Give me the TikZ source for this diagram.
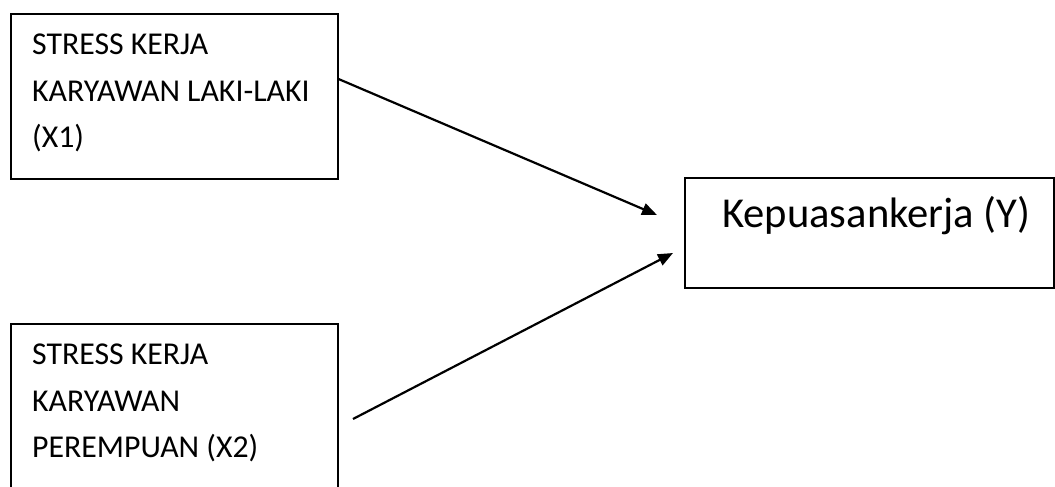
\documentclass[tikz,border=0pt]{standalone}
\usepackage{fontspec}
\setmainfont{Carlito}
\usetikzlibrary{arrows.meta}
\begin{document}
\begin{tikzpicture}[x=1pt,y=-1pt,
  box/.style={draw,line width=1.7pt,inner sep=0pt,anchor=north west},
  lbl/.style={font=\fontsize{31.8}{46.5}\selectfont,align=left,inner sep=0pt,anchor=north west},
  big/.style={font=\fontsize{42.6}{50}\selectfont,inner sep=0pt,anchor=base west},
  arr/.style={line width=2.2pt,-{Triangle[length=15pt,width=12pt]}}]
\clip (0,0) rectangle (1055,487);
\fill[white] (0,0) rectangle (1055,487);
\node[box,minimum width=327pt,minimum height=165pt] (x1) at (10,13) {};
\node[lbl] (x1t) at (32,34) {STRESS KERJA\\KARYAWAN LAKI-LAKI\\(X1)};
\node[box,minimum width=327pt,minimum height=165pt] (x2) at (10,323) {};
\node[lbl] (x2t) at (32,344) {STRESS KERJA\\KARYAWAN\\PEREMPUAN (X2)};
\node[box,minimum width=369pt,minimum height=110pt] (y) at (684,177) {};
\node[big] (yt) at (722,227.3) {Kepuasankerja (Y)};
\coordinate (t1) at (657,215);
\coordinate (s2) at (353,419);
\coordinate (t2) at (673,253);
\draw[arr] (x1.6.1) -- (t1);
\draw[arr] (s2) -- (t2);
\end{tikzpicture}
\end{document}
